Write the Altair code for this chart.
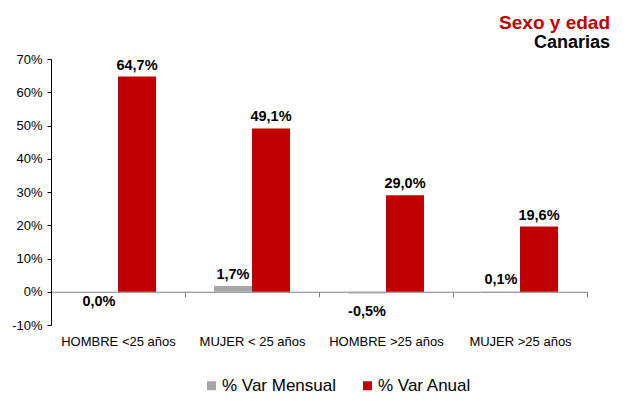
import altair as alt
import pandas as pd

categories = ["HOMBRE <25 años", "MUJER < 25 años", "HOMBRE >25 años", "MUJER >25 años"]
series = ["% Var Mensual", "% Var Anual"]
mensual = [0.0, 1.7, -0.5, 0.1]
anual = [64.7, 49.1, 29.0, 19.6]
y_ticks = [-10, 0, 10, 20, 30, 40, 50, 60, 70]
colors = ["#A6A6A6", "#C00000"]

rows = []
for c, m, a in zip(categories, mensual, anual):
    rows.append({"cat": c, "serie": series[0], "value": m})
    rows.append({"cat": c, "serie": series[1], "value": a})
df = pd.DataFrame(rows)

W, H = 536, 266
FONT = "Liberation Sans"
# distance from the bottom of the plot up to the zero line
zero_up = H * (0 - y_ticks[0]) / (y_ticks[-1] - y_ticks[0])

x_scale = alt.Scale(domain=categories, paddingInner=0, paddingOuter=0)
xo_scale = alt.Scale(domain=series, paddingInner=0, paddingOuter=0.763)
y_scale = alt.Scale(domain=[y_ticks[0], y_ticks[-1]], nice=False)

x_axis = alt.Axis(title=None, offset=-zero_up, tickBand="extent",
                  domainColor="#808080", tickColor="#808080", tickSize=5,
                  labelPadding=39, labelFontSize=13, labelColor="black",
                  labelAngle=0, labelFont=FONT, labelOverlap=False)
y_axis = alt.Axis(title=None, values=y_ticks, tickCount=len(y_ticks),
                  labelExpr="datum.value + '%'",
                  grid=False, domainColor="black", tickColor="black", tickSize=4,
                  labelPadding=5, labelFontSize=13, labelColor="black", labelFont=FONT,
                  labelOverlap=False)

base = alt.Chart(df).transform_calculate(
    label="(datum.value < 0 ? '-' : '') + replace(format(abs(datum.value), '.1f'), '.', ',') + '%'"
)

bars = base.mark_bar().encode(
    x=alt.X("cat:N", sort=categories, scale=x_scale, axis=x_axis),
    xOffset=alt.XOffset("serie:N", sort=series, scale=xo_scale),
    y=alt.Y("value:Q", scale=y_scale, axis=y_axis),
    color=alt.Color("serie:N", sort=series,
                    scale=alt.Scale(domain=series, range=colors),
                    legend=alt.Legend(title=None, orient="none", legendX=152, legendY=318,
                                      direction="horizontal", symbolType="square",
                                      symbolSize=81, symbolStrokeWidth=0,
                                      labelFontSize=17, labelFont=FONT, labelColor="black",
                                      columnPadding=22, labelOffset=2)),
)

def labels(cond, baseline, dy):
    return base.transform_filter(cond).mark_text(
        baseline=baseline, dy=dy, fontSize=14.5, fontWeight="bold", font=FONT, color="black"
    ).encode(
        x=alt.X("cat:N", sort=categories, scale=x_scale, axis=x_axis),
        xOffset=alt.XOffset("serie:N", sort=series, scale=xo_scale),
        y=alt.Y("value:Q", scale=y_scale, axis=y_axis),
        text="label:N",
    )

lab_pos = labels("datum.value > 0", "bottom", -4)
lab_zero = labels("datum.value == 0", "top", 3)
lab_neg = labels("datum.value < 0", "top", 12)

chart = alt.layer(bars, lab_pos, lab_zero, lab_neg).properties(
    width=W, height=H,
    title=alt.TitleParams(text="Sexo y edad", subtitle="Canarias", anchor="end", frame="group",
                          font=FONT, subtitleFont=FONT, fontSize=19, subtitleFontSize=18,
                          fontWeight="bold", subtitleFontWeight="bold",
                          color="#C00000", subtitleColor="black",
                          subtitlePadding=1, offset=1, dx=23),
    autosize=alt.AutoSizeParams(type="none"),
    padding={"left": 43, "top": 51, "right": 30, "bottom": 70},
).configure_view(stroke=None)

chart.save("out.html", embed_options={"renderer": "svg", "actions": False})
